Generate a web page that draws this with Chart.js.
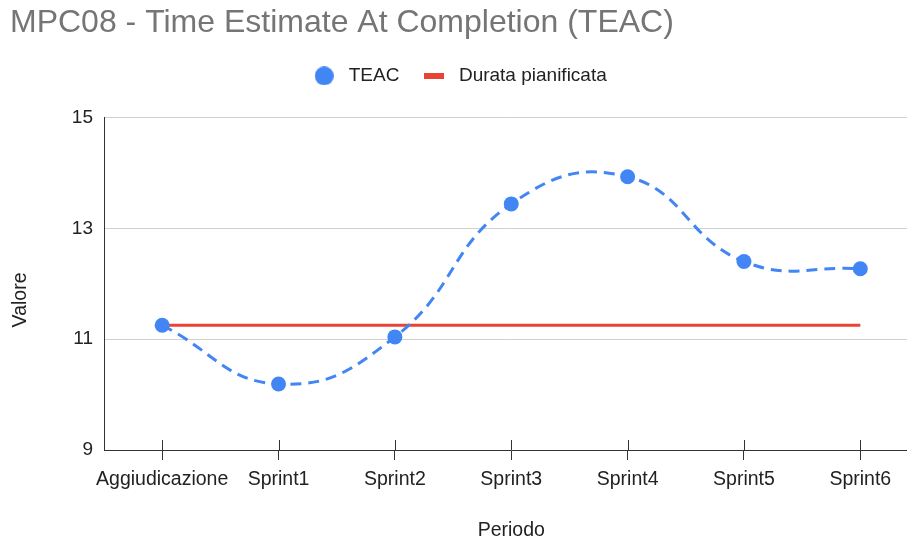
<!DOCTYPE html>
<html>
<head>
<meta charset="utf-8">
<script src="https://cdn.jsdelivr.net/npm/chart.js@4/dist/chart.umd.min.js"></script>
<style>
  html, body { margin: 0; padding: 0; background: #fff; overflow: hidden; }
  canvas { position: absolute; left: 0; top: 0; }
</style>
</head>
<body>
<canvas id="chart" width="926" height="542"></canvas>
<script>
// dati
const periodi = ["Aggiudicazione", "Sprint1", "Sprint2", "Sprint3", "Sprint4", "Sprint5", "Sprint6"];
const teac = [11.25, 10.19, 11.04, 13.44, 13.93, 12.40, 12.27];
const durataPianificata = [11.25, 11.25, 11.25, 11.25, 11.25, 11.25, 11.25];
const yTicks = [9, 11, 13, 15];

const FONT = "'Liberation Sans', Arial, sans-serif";
const BLUE = "#4285F4";
const RED = "#EA4335";

// marcatori della legenda (cerchio blu, barretta rossa)
function legendMark(w, h, draw) {
  const c = document.createElement("canvas");
  c.width = w;
  c.height = h;
  draw(c.getContext("2d"));
  return c;
}
const legendMarks = [
  legendMark(19, 19, (g) => {
    g.fillStyle = BLUE;
    g.beginPath();
    g.arc(9.5, 9.5, 9.5, 0, Math.PI * 2);
    g.fill();
  }),
  legendMark(20, 6, (g) => {
    g.fillStyle = RED;
    g.fillRect(0, 0, 20, 6);
  }),
];

// tacche dell'asse x che attraversano la linea di base
const xTickMarks = {
  id: "xTickMarks",
  afterLayout(chart) {
    // la legenda nell'originale e' un po' piu' a sinistra del centro della tela
    chart.legend.left -= 9;
    chart.legend.right -= 9;
  },
  beforeDatasetsDraw(chart) {
    const { ctx, scales: { x } } = chart;
    ctx.save();
    ctx.strokeStyle = "#333";
    ctx.lineWidth = 1;
    x.ticks.forEach((t, i) => {
      const px = Math.round(x.getPixelForTick(i)) + 0.5;
      ctx.beginPath();
      ctx.moveTo(px, x.top - 10);
      ctx.lineTo(px, x.top);
      ctx.stroke();
    });
    ctx.restore();
  },
};

new Chart(document.getElementById("chart"), {
  type: "line",
  data: {
    labels: periodi,
    datasets: [
      {
        label: "TEAC",
        data: teac,
        borderColor: BLUE,
        backgroundColor: BLUE,
        borderWidth: 3,
        borderDash: [11, 7],
        tension: 0.45,
        pointRadius: 7.5,
        pointBorderWidth: 0,
        pointBackgroundColor: BLUE,
      },
      {
        label: "Durata pianificata",
        data: durataPianificata,
        borderColor: RED,
        backgroundColor: RED,
        borderWidth: 3,
        pointRadius: 0,
        tension: 0,
      },
    ],
  },
  options: {
    responsive: false,
    animation: false,
    layout: { padding: { left: 10, right: 2, top: 0, bottom: 0 } },
    plugins: {
      tooltip: { enabled: false },
      title: {
        display: true,
        text: "MPC08 - Time Estimate At Completion (TEAC)",
        align: "start",
        color: "#757575",
        font: { family: FONT, size: 32, weight: "normal", lineHeight: 1.2 },
        padding: { top: 4, bottom: 4 },
      },
      // spazio vuoto tra legenda e area del grafico
      subtitle: {
        display: true,
        text: " ",
        weight: 500,
        font: { size: 1, lineHeight: 1 },
        padding: { top: 21, bottom: 0 },
      },
      legend: {
        position: "top",
        labels: {
          usePointStyle: true,
          pointStyleWidth: 30,
          padding: 20,
          color: "#222",
          font: { family: FONT, size: 19 },
          generateLabels: (chart) =>
            Chart.defaults.plugins.legend.labels.generateLabels(chart).map((item, i) => ({
              ...item,
              pointStyle: legendMarks[i],
            })),
        },
      },
    },
    scales: {
      x: {
        offset: true,
        grid: { drawOnChartArea: false, tickLength: 10, color: "#333" },
        border: { color: "#333", width: 1 },
        ticks: { color: "#222", padding: 8, font: { family: FONT, size: 19.5 }, maxRotation: 0, autoSkip: false },
        title: {
          display: true,
          text: "Periodo",
          color: "#222",
          font: { family: FONT, size: 19.5 },
          padding: { top: 0, bottom: 0 },
        },
        afterFit: (scale) => {
          scale.height = 92;
          scale.paddingLeft = 0;
          scale.paddingRight = 0;
        },
      },
      y: {
        min: 9,
        max: 15,
        afterBuildTicks: (scale) => { scale.ticks = yTicks.map((v) => ({ value: v })); },
        grid: { color: "#d0d0d0", drawTicks: false },
        border: { color: "#333", width: 1 },
        ticks: { color: "#222", padding: 11, font: { family: FONT, size: 19 } },
        title: {
          display: true,
          text: "Valore      ",
          color: "#222",
          font: { family: FONT, size: 19.5, lineHeight: 1 },
          padding: { top: 1, bottom: 0 },
        },
        afterFit: (scale) => { scale.width = 94; },
      },
    },
  },
  plugins: [xTickMarks],
});
</script>
</body>
</html>
